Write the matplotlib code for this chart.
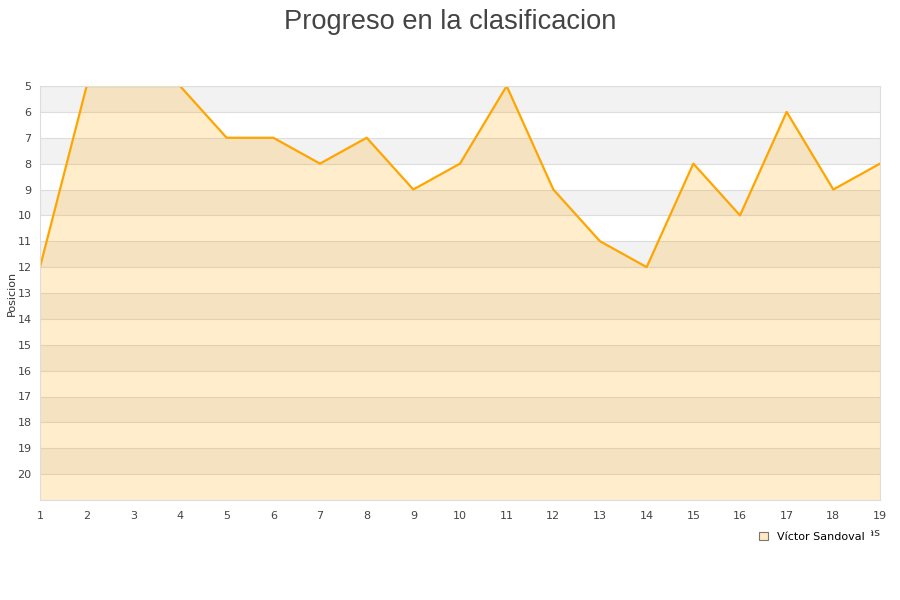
import numpy as np
import matplotlib.pyplot as plt
from matplotlib.patches import Rectangle

jornadas = list(range(1, 20))
posiciones = [12, 5, 5, 5, 7, 7, 8, 7, 9, 8, 5, 9, 11, 12, 8, 10, 6, 9, 8]
jugador = 'Víctor Sandoval'
titulo = 'Progreso en la clasificacion'

y_top, y_bottom = 5, 21

fig = plt.figure(figsize=(9, 6), dpi=100)
ax = fig.add_axes([40/900, 1 - 500/600, 840/900, 414/600])

# alternating bands
for y in range(y_top, y_bottom, 2):
    ax.axhspan(y, y + 1, color='#f2f2f2', zorder=0, lw=0)
for y in range(y_top, y_bottom + 1):
    ax.axhline(y, color='#dddddd', lw=0.8, zorder=0.5)

ax.fill_between(jornadas, posiciones, y_bottom, color='#ffa500', alpha=0.2, lw=0, zorder=1)
ax.plot(jornadas, posiciones, color='#ffa500', lw=1.6, zorder=2)

ax.set_xlim(1, 19)
ax.set_ylim(y_bottom, y_top)
ax.set_xticks(jornadas)
ax.set_yticks(range(y_top, y_bottom))
ax.tick_params(length=0, labelsize=8, colors='#444444', pad=6)
ax.tick_params(axis='x', pad=8)
for s in ax.spines.values():
    s.set_color('#dddddd')
    s.set_linewidth(0.8)

ax.set_ylabel('Posicion', fontsize=8, color='#333333')
ax.yaxis.set_label_coords(-0.028, 0.5)
ax.set_xlabel('jornadas', fontsize=8, color='#333333', loc='right', labelpad=5)

fig.suptitle(titulo, fontsize=19.6, color='#444444', family='Liberation Sans', y=0.985)

h = Rectangle((0, 0), 1, 1, facecolor='#ffe9c4', edgecolor='#777777', lw=0.8)
leg = fig.legend([h], [jugador], loc='center', bbox_to_anchor=(812/900, 1 - 537/600),
                 frameon=True, fontsize=8, handlelength=0.8, handleheight=0.8,
                 handletextpad=0.8, borderpad=0.5)
leg.get_frame().set_edgecolor('white')
leg.get_frame().set_facecolor('white')
leg.get_frame().set_alpha(1)
leg.set_zorder(10)

fig.savefig('out.png', dpi=100)
